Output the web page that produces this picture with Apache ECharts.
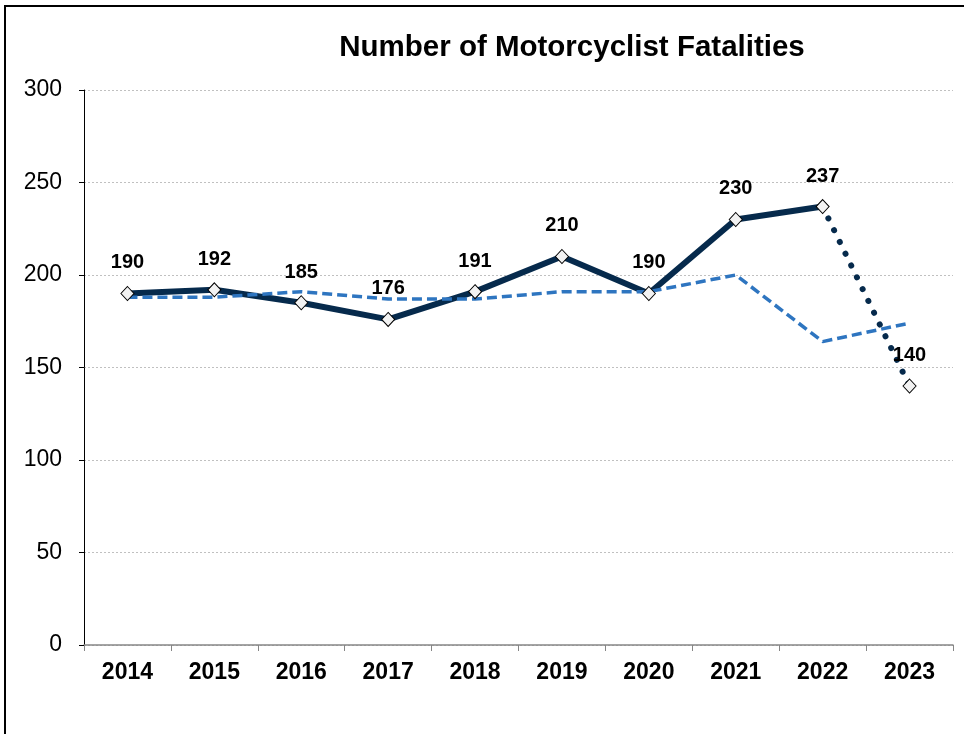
<!DOCTYPE html>
<html>
<head>
<meta charset="utf-8">
<script src="https://cdn.jsdelivr.net/npm/echarts@6/dist/echarts.min.js"></script>
<style>
  html, body { margin: 0; padding: 0; background: #fff; }
  #chart { width: 964px; height: 734px; }
</style>
</head>
<body>
<div id="chart"></div>
<script>
var years = ['2014', '2015', '2016', '2017', '2018', '2019', '2020', '2021', '2022', '2023'];
// 实际死亡人数 (2023 为初步数据, 虚点线)
var fatalities = [190, 192, 185, 176, 191, 210, 190, 230, 237, 140];
// 蓝色虚线 (趋势)
var trend = [188, 188, 191, 187, 187, 191, 191, 200, 164, 174];
var yTicks = { min: 0, max: 300, interval: 50 };

var font = "'Liberation Sans', Arial, sans-serif";
var navy = '#062a4c';
var blue = '#2e75c0';

// 实线: 2014-2022, 点线: 2022-2023
var solidData = fatalities.map(function (v, i) { return i < 9 ? v : '-'; });
var dottedData = fatalities.map(function (v, i) { return i >= 8 ? v : '-'; });

var myChart = echarts.init(document.getElementById('chart'));

var option = {
    animation: false,
    title: {
        text: 'Number of Motorcyclist Fatalities',
        left: 567,
        textAlign: 'center',
        top: 28,
        textStyle: {
            fontFamily: font,
            fontWeight: 'bold',
            fontSize: 29.5,
            color: '#000'
        }
    },
    graphic: [{
        type: 'rect',
        shape: { x: 5, y: 6, width: 1100, height: 1000 },
        style: { fill: 'none', stroke: '#000', lineWidth: 2 },
        silent: true
    }],
    grid: {
        left: 84,
        right: 11,
        top: 90,
        bottom: 89
    },
    xAxis: {
        type: 'category',
        data: years,
        boundaryGap: true,
        axisLine: { lineStyle: { color: '#868686', width: 1.5 } },
        axisTick: { show: true, length: 6, lineStyle: { color: '#868686' } },
        axisLabel: {
            margin: 16,
            fontFamily: font,
            fontWeight: 'bold',
            fontSize: 23,
            color: '#000'
        }
    },
    yAxis: {
        type: 'value',
        min: yTicks.min,
        max: yTicks.max,
        interval: yTicks.interval,
        axisLine: { show: true, lineStyle: { color: '#000', width: 1 } },
        axisTick: { show: true, length: 5, lineStyle: { color: '#000' } },
        axisLabel: {
            margin: 22,
            fontFamily: font,
            fontSize: 23,
            color: '#000'
        },
        splitLine: {
            lineStyle: { color: '#c0c0c0', type: [2, 2], width: 1 }
        }
    },
    series: [{
        name: 'solid',
        type: 'line',
        data: solidData,
        showSymbol: false,
        silent: true,
        z: 2,
        lineStyle: { color: navy, width: 6 }
    }, {
        name: 'dotted',
        type: 'line',
        data: dottedData,
        showSymbol: false,
        silent: true,
        z: 2,
        lineStyle: { color: navy, width: 6, type: [0.1, 13], cap: 'round' }
    }, {
        name: 'trend',
        type: 'line',
        data: trend,
        showSymbol: false,
        silent: true,
        z: 3,
        lineStyle: { color: blue, width: 3.5, type: [10, 5] }
    }, {
        name: 'markers',
        type: 'line',
        data: fatalities,
        symbol: 'diamond',
        symbolSize: [13, 14],
        silent: true,
        z: 4,
        lineStyle: { width: 0, opacity: 0 },
        itemStyle: { color: '#f2f2f2', borderColor: '#000', borderWidth: 1 },
        label: {
            show: true,
            position: 'top',
            distance: 13,
            fontFamily: font,
            fontWeight: 'bold',
            fontSize: 20,
            color: '#000'
        }
    }]
};

myChart.setOption(option);
window.addEventListener('resize', function () {
    myChart.resize();
});
</script>
</body>
</html>
